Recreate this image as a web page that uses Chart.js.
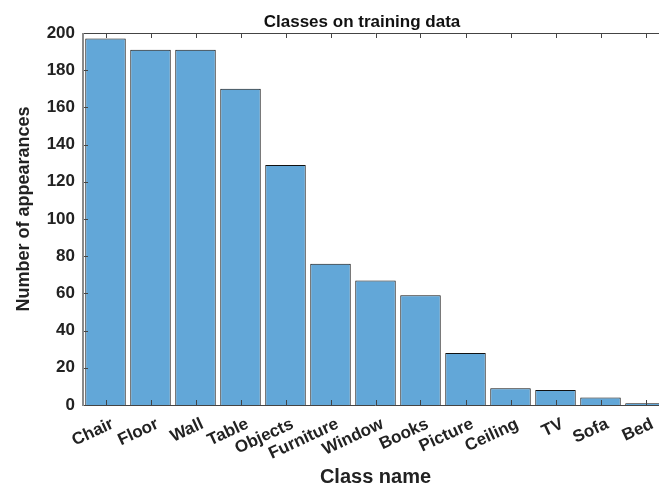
<!DOCTYPE html>
<html>
<head>
<meta charset="utf-8">
<script src="https://cdn.jsdelivr.net/npm/chart.js@4.4.0/dist/chart.umd.min.js"></script>
<style>
  html, body { margin: 0; padding: 0; background: #fff; overflow: hidden; }
  #wrap { width: 672px; height: 486px; }
</style>
</head>
<body>
<div id="wrap"><canvas id="chart" width="672" height="486"></canvas></div>
<script>
// Chart data
const classNames = ["Chair", "Floor", "Wall", "Table", "Objects", "Furniture", "Window",
  "Books", "Picture", "Ceiling", "TV", "Sofa", "Bed"];
const appearances = [197, 191, 191, 170, 129, 76, 67, 59, 28, 9, 8, 4, 1];
const yTicks = [0, 20, 40, 60, 80, 100, 120, 140, 160, 180, 200];
const chartTitle = "Classes on training data";
const yTitle = "Number of appearances";

const FONT = "'Liberation Sans', Arial, sans-serif";

// MATLAB-like box, inward ticks and titles
const matlabAxes = {
  id: "matlabAxes",
  afterDatasetsDraw(chart) {
    const { ctx, chartArea: a, scales } = chart;
    ctx.save();
    ctx.strokeStyle = "#444";
    ctx.lineWidth = 1;
    ctx.beginPath();
    // top and bottom box lines
    ctx.moveTo(a.left, a.top + 0.5); ctx.lineTo(a.right, a.top + 0.5);
    ctx.moveTo(a.left, a.bottom + 0.5); ctx.lineTo(a.right, a.bottom + 0.5);
    // x ticks, inward
    scales.x.ticks.forEach((t, i) => {
      const x = Math.round(scales.x.getPixelForTick(i)) + 0.5;
      ctx.moveTo(x, a.bottom); ctx.lineTo(x, a.bottom - 5);
      ctx.moveTo(x, a.top); ctx.lineTo(x, a.top + 5);
    });
    // y ticks, inward
    yTicks.forEach(v => {
      const y = Math.round(scales.y.getPixelForValue(v)) + 0.5;
      ctx.moveTo(a.left, y); ctx.lineTo(a.left + 5, y);
    });
    ctx.stroke();
    // left axis line
    ctx.strokeStyle = "#8a8a8a";
    ctx.lineWidth = 2;
    ctx.beginPath();
    ctx.moveTo(a.left, a.top); ctx.lineTo(a.left, a.bottom + 1);
    ctx.stroke();
    // title
    ctx.fillStyle = "#111";
    ctx.font = "bold 17px " + FONT;
    ctx.textAlign = "center";
    ctx.textBaseline = "alphabetic";
    ctx.fillText(chartTitle, 362, 27);
    // y axis title
    ctx.fillStyle = "#222";
    ctx.font = "bold 18px " + FONT;
    ctx.translate(29, 209);
    ctx.rotate(-Math.PI / 2);
    ctx.fillText(yTitle, 0, 0);
    ctx.restore();
  }
};

new Chart(document.getElementById("chart"), {
  type: "bar",
  data: {
    labels: classNames,
    datasets: [{
      data: appearances,
      backgroundColor: "#62a7d8",
      borderColor: "#111",
      borderWidth: 1,
      barPercentage: 0.9,
      categoryPercentage: 1.0
    }]
  },
  options: {
    responsive: false,
    animation: false,
    layout: { padding: { top: 33, right: 4, left: 0, bottom: 0 } },
    plugins: { legend: { display: false }, tooltip: { enabled: false } },
    scales: {
      x: {
        grid: { display: false, drawTicks: false },
        border: { display: false },
        ticks: {
          color: "#222",
          font: { family: FONT, size: 17, weight: "bold" },
          minRotation: 25, maxRotation: 25,
          autoSkip: false,
          padding: 9,
          labelOffset: 7
        },
        title: {
          display: true, text: "Class name", color: "#222",
          font: { family: FONT, size: 20, weight: "bold", lineHeight: 1 },
          padding: { top: 0, bottom: -1 }
        },
        afterFit(scale) { scale.height = 81; }
      },
      y: {
        min: 0, max: 200,
        afterBuildTicks(scale) { scale.ticks = yTicks.map(v => ({ value: v })); },
        grid: { display: false, drawTicks: false },
        border: { display: false },
        ticks: {
          color: "#222",
          font: { family: FONT, size: 17, weight: "bold" },
          padding: 8
        },
        afterFit(scale) { scale.width = 83; }
      }
    }
  },
  plugins: [matlabAxes]
});
</script>
</body>
</html>
